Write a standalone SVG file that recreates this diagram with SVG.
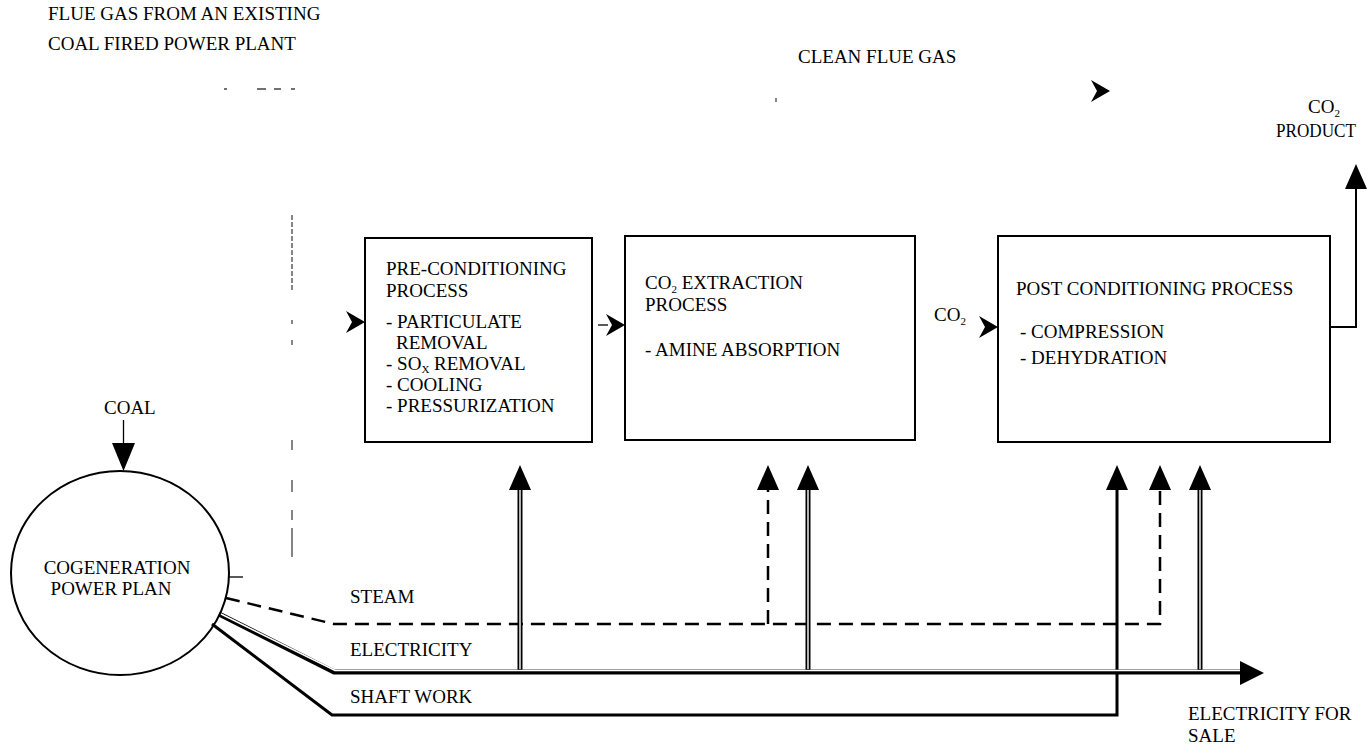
<svg xmlns="http://www.w3.org/2000/svg" width="1370" height="744" viewBox="0 0 1370 744">
<style>
text { font-family: "Liberation Serif", "Times New Roman", serif; font-size: 19px; fill: #000; }
.sub { font-size: 11px; }
.box { fill: #fff; stroke: #000; stroke-width: 2; }
.line { fill: none; stroke: #000; stroke-width: 2; }
.thin { fill: none; stroke: #000; stroke-width: 1.3; }
.shaft { fill: none; stroke: #000; stroke-width: 3; }
.steam { fill: none; stroke: #000; stroke-width: 2.5; stroke-dasharray: 14 8; }
.dbl-out { fill: none; stroke: #000; stroke-width: 5; }
.dbl-in { fill: none; stroke: #fff; stroke-width: 1.4; }
.faint { fill: none; stroke: #444; stroke-width: 1.3; }
.head { fill: #000; }
</style>
<defs>
<path id="stealth" d="M0,0 L-19,-11 L-13,0 L-19,11 Z"/>
<path id="tri-up" d="M0,0 L11,25 L-11,25 Z"/>
<path id="tri-right" d="M0,0 L-24,-12 L-24,12 Z"/>
</defs>

<g id="labels">
<text x="48" y="20">FLUE GAS FROM AN EXISTING</text>
<text x="48" y="50">COAL FIRED POWER PLANT</text>
<text x="798" y="63">CLEAN FLUE GAS</text>
<text x="1308" y="113">CO<tspan class="sub" dy="4">2</tspan></text>
<text x="1276" y="137" textLength="80" lengthAdjust="spacingAndGlyphs">PRODUCT</text>
<text x="934" y="321">CO<tspan class="sub" dy="4">2</tspan></text>
<text x="104" y="414">COAL</text>
<text x="350" y="603">STEAM</text>
<text x="350" y="656">ELECTRICITY</text>
<text x="350" y="703">SHAFT WORK</text>
<text x="1188" y="720">ELECTRICITY FOR</text>
<text x="1188" y="742">SALE</text>
</g>

<g id="pre-conditioning">
<rect class="box" x="365" y="238" width="227" height="204"/>
<text x="386" y="275">PRE-CONDITIONING</text>
<text x="386" y="297">PROCESS</text>
<text x="386" y="328">- PARTICULATE</text>
<text x="396" y="349">REMOVAL</text>
<text x="386" y="370">- SO<tspan class="sub" dy="3">X</tspan><tspan dy="-3"> REMOVAL</tspan></text>
<text x="386" y="391">- COOLING</text>
<text x="386" y="412">- PRESSURIZATION</text>
</g>

<g id="co2-extraction">
<rect class="box" x="625" y="236" width="290" height="204"/>
<text x="645" y="289">CO<tspan class="sub" dy="4">2</tspan><tspan dy="-4"> EXTRACTION</tspan></text>
<text x="645" y="311">PROCESS</text>
<text x="645" y="356">- AMINE ABSORPTION</text>
</g>

<g id="post-conditioning">
<rect class="box" x="998" y="236" width="332" height="206"/>
<text x="1016" y="295">POST CONDITIONING PROCESS</text>
<text x="1020" y="338">- COMPRESSION</text>
<text x="1020" y="364">- DEHYDRATION</text>
</g>

<g id="cogeneration">
<ellipse cx="120" cy="573" rx="109" ry="102" fill="#fff" stroke="#000" stroke-width="2"/>
<text x="117" y="574" text-anchor="middle">COGENERATION</text>
<text x="111" y="595" text-anchor="middle">POWER PLAN</text>
</g>

<g id="connectors">
<!-- faint flue gas fragments -->
<path class="faint" d="M224,89 H227 M257,89 H266 M274,89 H281 M291,89 H295"/>
<path class="faint" stroke-dasharray="5 2" d="M292,215 V292"/>
<path class="faint" d="M292,320 V324 M292,340 V345 M292,440 V450 M292,480 V492 M292,510 V520 M292,528 V557"/>
<path class="faint" d="M776,98 V102"/>
<use href="#stealth" class="head" x="1110" y="91"/>

<!-- main process flow -->
<use href="#stealth" class="head" x="365" y="322"/>
<path class="thin" d="M598,325 H608"/>
<use href="#stealth" class="head" x="625" y="325"/>
<use href="#stealth" class="head" x="998" y="327"/>
<path class="line" d="M1330,327 H1356 V185"/>
<use href="#tri-up" class="head" x="1356" y="164"/>

<!-- coal -->
<path class="thin" d="M123.5,420 V446"/>
<path class="head" d="M112,443 L135,443 L123.5,471 Z"/>

<!-- tick -->
<path class="thin" d="M229,577 H243"/>

<!-- steam -->
<path class="steam" d="M226,598 L334,624 H1160 V490"/>
<path class="steam" d="M768,624 V490"/>
<use href="#tri-up" class="head" x="768" y="465"/>
<use href="#tri-up" class="head" x="1160" y="465"/>

<!-- shaft work -->
<path class="shaft" d="M212,624 L332,715 H1117 V488"/>
<use href="#tri-up" class="head" x="1117" y="465"/>

<!-- electricity (double line) -->
<path class="dbl-out" d="M219,614 L334,672 H1242"/>
<path class="dbl-out" d="M520,672 V488 M808,672 V488 M1200,672 V488"/>
<path class="dbl-in" d="M221,614 L335,670.5 H1240"/>
<path class="dbl-in" d="M520,669 V490 M808,669 V490 M1200,669 V490"/>
<use href="#tri-up" class="head" x="520" y="465"/>
<use href="#tri-up" class="head" x="808" y="465"/>
<use href="#tri-up" class="head" x="1200" y="465"/>
<use href="#tri-right" class="head" x="1264" y="673"/>
</g>
</svg>
